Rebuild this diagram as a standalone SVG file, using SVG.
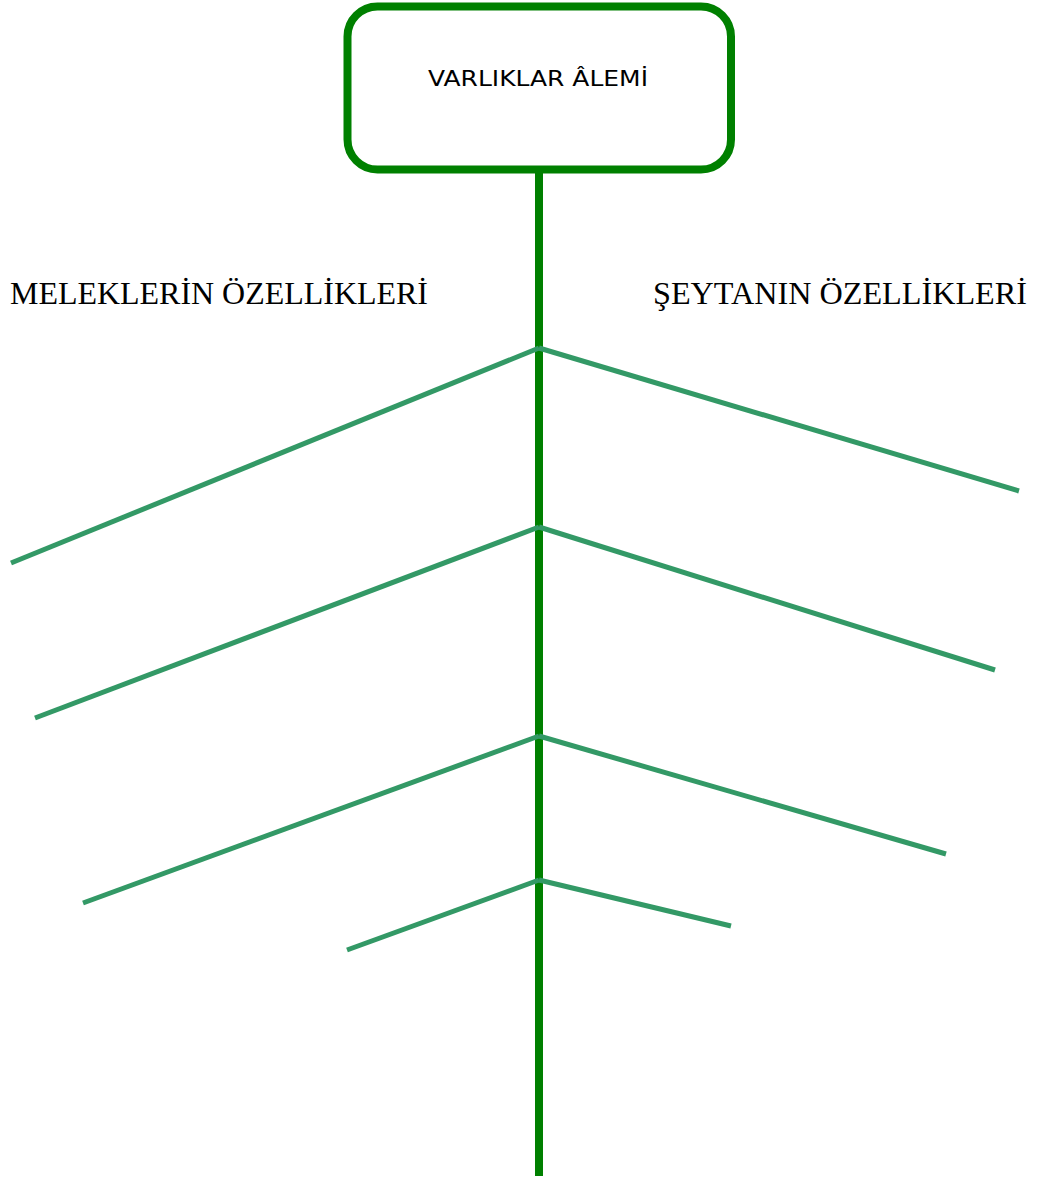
<svg xmlns="http://www.w3.org/2000/svg" width="1037" height="1180" viewBox="0 0 1037 1180">
<style>
.trunk{stroke:#008000;stroke-width:8;fill:none}
.br{stroke:#339966;stroke-width:5;fill:none}
.title{font-family:"Liberation Serif","Times New Roman",serif;font-size:32px;fill:#000}
.box{fill:#fff;stroke:#008000;stroke-width:8}
.boxt{font-family:"DejaVu Sans",sans-serif;font-size:21px;fill:#000}
</style>
<rect width="1037" height="1180" fill="#fff"/>
<g id="connectors">
<line class="trunk" x1="539" y1="170" x2="539" y2="1176"/>
<line class="br" x1="539" y1="348" x2="11" y2="563"/>
<line class="br" x1="539" y1="527" x2="35" y2="718"/>
<line class="br" x1="539" y1="736" x2="83" y2="903"/>
<line class="br" x1="539" y1="880" x2="347" y2="950"/>
<line class="br" x1="539" y1="348" x2="1019" y2="491"/>
<line class="br" x1="539" y1="527" x2="995" y2="670"/>
<line class="br" x1="539" y1="736" x2="946" y2="854"/>
<line class="br" x1="539" y1="880" x2="731" y2="926"/>
</g>
<g id="root">
<rect class="box" x="347.5" y="6.5" width="383.5" height="163" rx="30" ry="30"/>
<text class="boxt" x="428" y="86" textLength="220" lengthAdjust="spacingAndGlyphs">VARLIKLAR ÂLEMİ</text>
</g>
<g id="melekler">
<text class="title" x="10" y="304" textLength="418" lengthAdjust="spacingAndGlyphs">MELEKLERİN ÖZELLİKLERİ</text>
</g>
<g id="seytan">
<text class="title" x="653" y="304" textLength="374" lengthAdjust="spacingAndGlyphs">ŞEYTANIN ÖZELLİKLERİ</text>
</g>
</svg>
